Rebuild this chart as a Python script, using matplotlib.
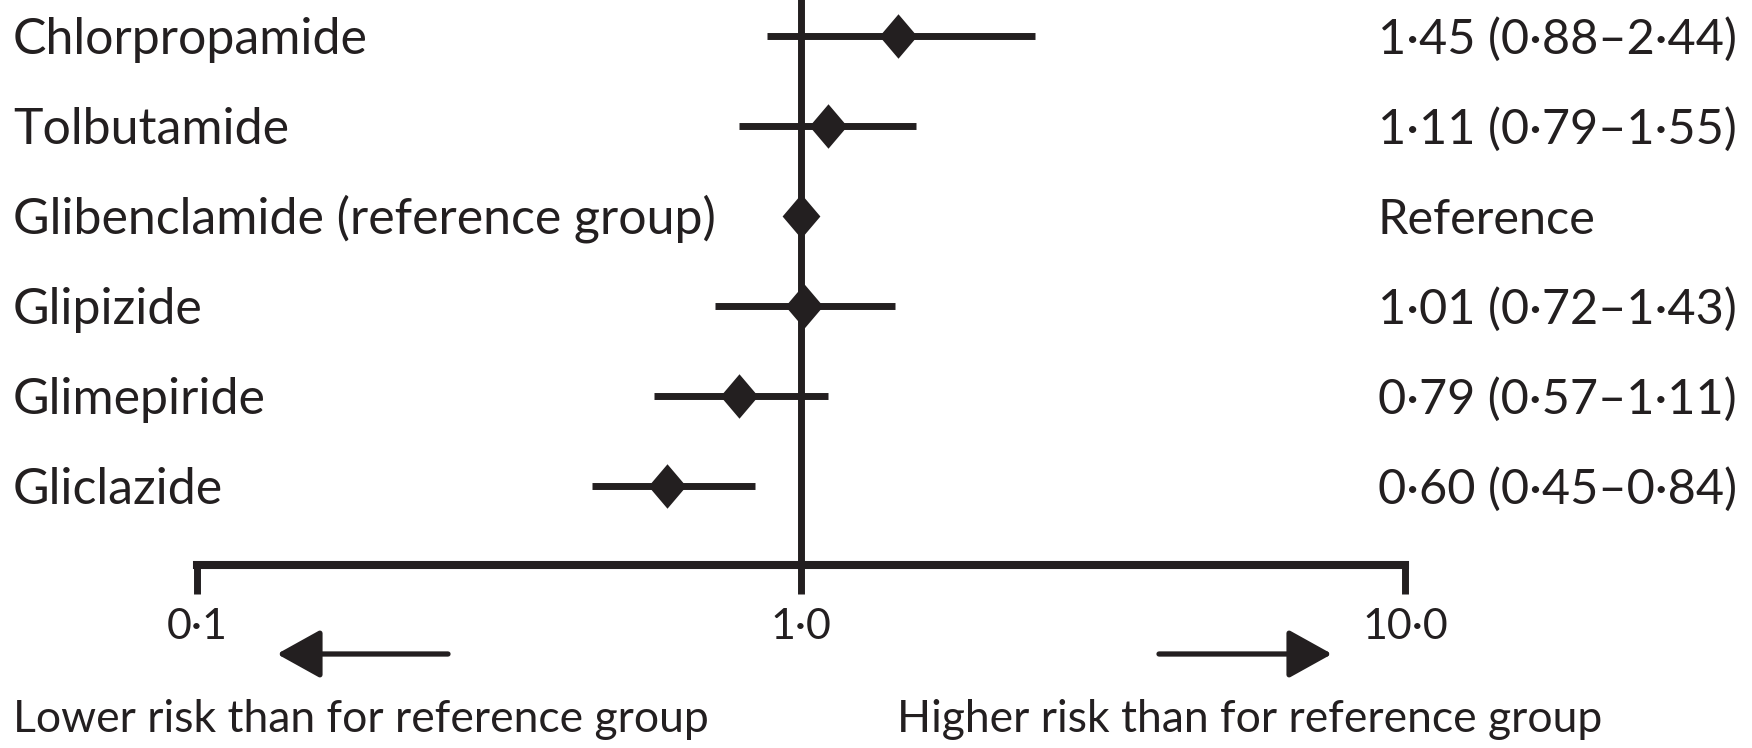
import matplotlib
matplotlib.use("Agg")
import matplotlib.pyplot as plt
from matplotlib.transforms import blended_transform_factory

# ── data ─────────────────────────────────────────────────────────────────────
drugs = ["Chlorpropamide", "Tolbutamide", "Glibenclamide (reference group)",
         "Glipizide", "Glimepiride", "Gliclazide"]
hr    = [1.45, 1.11, 1.00, 1.01, 0.79, 0.60]
ci_lo = [0.88, 0.79, None, 0.72, 0.57, 0.45]
ci_hi = [2.44, 1.55, None, 1.43, 1.11, 0.84]
hr_text = ["1·45 (0·88–2·44)", "1·11 (0·79–1·55)", "Reference",
           "1·01 (0·72–1·43)", "0·79 (0·57–1·11)", "0·60 (0·45–0·84)"]
xticks      = [0.1, 1.0, 10.0]
xticklabels = ["0·1", "1·0", "10·0"]
lower_label = "Lower risk than for reference group"
upper_label = "Higher risk than for reference group"

# ── style ────────────────────────────────────────────────────────────────────
INK   = "#231f20"
FONT  = ["Lato", "DejaVu Sans"]
FS    = 35
W, H  = 1752, 748
DPI   = 100
plt.rcParams["font.family"] = FONT

fig = plt.figure(figsize=(W / DPI, H / DPI), dpi=DPI)
# axes: x from 0.1 (px 197) to 10 (px 1405); y from top edge down to axis line (px 565)
ax = fig.add_axes([197 / W, 1 - 565 / H, (1405 - 197) / W, 565 / H])
ax.set_xscale("log")
ax.set_xlim(0.1, 10)
rows = list(range(len(drugs)))
ax.set_ylim(5.88, -0.4)
ax.patch.set_visible(False)

for s in ["top", "left", "right"]:
    ax.spines[s].set_visible(False)
ax.spines["bottom"].set_linewidth(5.8)
ax.spines["bottom"].set_color(INK)
ax.spines["bottom"].set_capstyle("projecting")

ax.set_yticks([])
ax.set_xticks(xticks)
ax.set_xticklabels(xticklabels)
ax.minorticks_off()
ax.tick_params(axis="x", which="major", direction="out", length=21, width=5,
               color=INK, pad=10, labelsize=31, labelcolor=INK)

# line of no effect
ax.axvline(1.0, color=INK, lw=5, zorder=2)

# confidence intervals + point estimates
for y, lo, hi in zip(rows, ci_lo, ci_hi):
    if lo is None:
        continue
    ax.plot([lo, hi], [y, y], color=INK, lw=5, solid_capstyle="butt", zorder=3)

diamond = [(0, 1), (0.85, 0), (0, -1), (-0.85, 0), (0, 1)]
ax.plot(hr, rows, linestyle="none", marker=diamond, ms=32,
        color=INK, mec=INK, mew=0, zorder=4)

# left labels and right-hand estimates
tr = blended_transform_factory(fig.transFigure, ax.transData)
for y, name, txt in zip(rows, drugs, hr_text):
    ax.text(13 / W, y + 0.2, name, transform=tr, ha="left", va="baseline",
            fontsize=36, color=INK, clip_on=False)
    ax.text(1378 / W, y + 0.2, txt, transform=tr, ha="left", va="baseline",
            fontsize=FS, color=INK, clip_on=False)

# direction arrows
arrow_y = 1 - 654 / H
for tail, tip in [(448, 277), (1159, 1332)]:
    fig.add_artist(matplotlib.patches.FancyArrowPatch(
        (tail / W, arrow_y), (tip / W, arrow_y), transform=fig.transFigure,
        arrowstyle="-|>,head_length=27,head_width=15", mutation_scale=1,
        color=INK, lw=3.8, shrinkA=0, shrinkB=0))

fig.text(13 / W, 1 - 732 / H, lower_label, ha="left", va="baseline",
         fontsize=32, color=INK)
fig.text(897 / W, 1 - 732 / H, upper_label, ha="left", va="baseline",
         fontsize=32, color=INK)

fig.savefig("out.png", dpi=DPI, facecolor="white")
